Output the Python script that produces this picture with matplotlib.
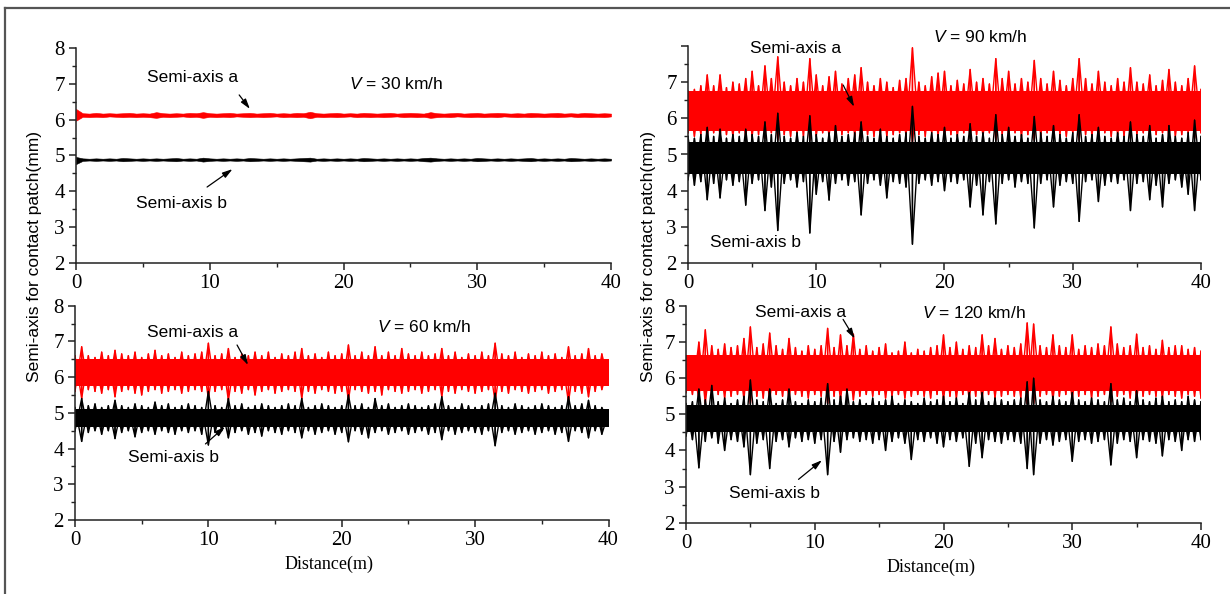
import numpy as np
import matplotlib
matplotlib.use("Agg")
import matplotlib.pyplot as plt
from matplotlib.lines import Line2D
from matplotlib.ticker import MultipleLocator

# ---------------- data ----------------
# Envelope values sampled every 0.5 m over 0-40 m (81 samples each)
red_hi_30 = [6.30,6.18,6.17,6.19,6.17,6.18,6.17,6.18,6.19,6.17,
             6.18,6.17,6.21,6.18,6.17,6.18,6.17,6.19,6.18,6.21,
             6.18,6.17,6.18,6.19,6.17,6.18,6.19,6.17,6.18,6.19,
             6.17,6.18,6.17,6.19,6.18,6.22,6.18,6.17,6.18,6.19,
             6.17,6.18,6.17,6.19,6.18,6.17,6.18,6.19,6.17,6.18,
             6.19,6.18,6.17,6.21,6.18,6.17,6.18,6.19,6.17,6.18,
             6.19,6.17,6.18,6.19,6.18,6.17,6.18,6.17,6.19,6.18,
             6.17,6.18,6.19,6.17,6.18,6.17,6.19,6.18,6.17,6.18,
             6.17]
red_lo_30 = [5.97,6.08,6.07,6.08,6.07,6.09,6.08,6.07,6.08,6.07,
             6.08,6.07,6.05,6.08,6.07,6.08,6.09,6.07,6.08,6.05,
             6.08,6.07,6.08,6.07,6.09,6.08,6.07,6.08,6.07,6.08,
             6.09,6.07,6.08,6.07,6.08,6.04,6.08,6.07,6.08,6.07,
             6.08,6.09,6.07,6.08,6.07,6.08,6.07,6.08,6.09,6.07,
             6.08,6.07,6.08,6.05,6.07,6.08,6.07,6.09,6.08,6.07,
             6.08,6.07,6.08,6.07,6.09,6.08,6.07,6.08,6.07,6.08,
             6.07,6.08,6.07,6.08,6.09,6.07,6.08,6.07,6.08,6.07,
             6.09]
black_hi_30 = [4.96,4.92,4.91,4.92,4.91,4.92,4.91,4.93,4.92,4.91,
               4.92,4.91,4.92,4.91,4.92,4.93,4.91,4.92,4.91,4.94,
               4.92,4.91,4.92,4.91,4.92,4.91,4.93,4.92,4.91,4.92,
               4.91,4.92,4.91,4.92,4.93,4.94,4.91,4.92,4.91,4.92,
               4.91,4.92,4.91,4.93,4.92,4.91,4.92,4.91,4.92,4.91,
               4.92,4.91,4.93,4.94,4.92,4.91,4.92,4.91,4.92,4.91,
               4.93,4.92,4.91,4.92,4.91,4.92,4.91,4.92,4.93,4.91,
               4.92,4.91,4.92,4.91,4.93,4.92,4.91,4.92,4.91,4.92,
               4.91]
black_lo_30 = [4.76,4.85,4.86,4.85,4.86,4.85,4.86,4.84,4.85,4.86,
               4.85,4.86,4.85,4.86,4.85,4.84,4.86,4.85,4.86,4.83,
               4.85,4.86,4.85,4.86,4.85,4.86,4.84,4.85,4.86,4.85,
               4.86,4.85,4.86,4.85,4.84,4.83,4.86,4.85,4.86,4.85,
               4.86,4.85,4.86,4.84,4.85,4.86,4.85,4.86,4.85,4.86,
               4.85,4.86,4.84,4.83,4.85,4.86,4.85,4.86,4.85,4.86,
               4.84,4.85,4.86,4.85,4.86,4.85,4.86,4.85,4.84,4.86,
               4.85,4.86,4.85,4.86,4.84,4.85,4.86,4.85,4.86,4.85,
               4.86]

red_hi_90 = [6.75,6.8,6.9,7.2,6.9,7.2,6.85,7.0,6.95,7.1,
             7.3,6.9,7.45,7.1,7.7,7.0,6.9,7.1,7.0,7.65,
             7.2,6.9,7.15,7.3,6.95,7.1,7.2,7.4,7.0,6.9,
             7.1,7.0,6.85,7.05,7.1,7.95,7.0,6.9,7.15,7.25,
             7.3,6.9,7.05,6.95,7.35,7.0,7.1,6.95,7.65,7.1,
             7.3,6.95,7.1,7.0,7.6,7.1,6.95,7.3,7.05,6.9,
             7.1,7.65,7.1,6.95,7.3,7.0,6.9,7.1,7.0,7.4,
             7.0,6.95,7.2,6.9,7.05,7.35,7.0,6.9,7.1,7.45,
             6.8]
red_lo_90 = [5.6,5.5,5.55,5.45,5.6,5.5,5.55,5.5,5.6,5.45,
             5.5,5.55,5.45,5.6,5.4,5.55,5.5,5.6,5.5,5.4,
             5.5,5.6,5.5,5.45,5.55,5.6,5.5,5.4,5.55,5.5,
             5.6,5.5,5.55,5.6,5.5,5.35,5.55,5.5,5.6,5.5,
             5.45,5.55,5.5,5.6,5.45,5.55,5.5,5.6,5.4,5.55,
             5.5,5.6,5.5,5.55,5.4,5.5,5.6,5.45,5.55,5.5,
             5.6,5.4,5.55,5.5,5.45,5.6,5.5,5.55,5.5,5.45,
             5.55,5.6,5.5,5.55,5.6,5.45,5.5,5.55,5.6,5.45,
             5.6]
black_hi_90 = [5.5,5.45,5.55,5.75,5.5,5.7,5.45,5.55,5.5,5.7,
               5.55,5.5,5.9,5.55,6.14,5.5,5.45,5.6,5.5,6.07,
               5.55,5.45,5.6,5.8,5.5,5.55,5.6,5.9,5.5,5.45,
               5.7,5.5,5.45,5.55,5.6,6.33,5.5,5.45,5.6,5.55,
               5.75,5.45,5.55,5.5,5.85,5.5,5.6,5.45,6.1,5.55,
               5.75,5.5,5.55,5.45,6.05,5.6,5.5,5.8,5.55,5.45,
               5.6,6.1,5.5,5.55,5.75,5.5,5.45,5.6,5.5,5.9,
               5.55,5.5,5.8,5.45,5.55,5.8,5.5,5.45,5.6,5.95,
               5.5]
black_lo_90 = [4.3,4.15,4.25,3.75,4.2,3.8,4.3,4.15,4.25,3.6,
               4.2,4.3,3.45,4.1,2.9,4.2,4.3,4.1,4.25,2.83,
               3.9,4.25,3.74,4.2,4.3,4.15,4.25,3.33,4.2,4.3,
               4.15,3.8,4.25,4.2,4.1,2.52,4.2,4.3,4.15,4.25,
               4.0,4.25,4.2,4.3,3.55,4.15,3.33,4.25,3.08,4.2,
               4.3,4.1,4.25,4.2,2.97,4.2,4.3,3.55,4.15,4.25,
               4.2,3.15,4.25,4.3,3.7,4.15,4.25,4.2,4.3,3.45,
               4.2,4.25,3.75,4.15,3.55,4.2,4.3,4.1,3.9,3.45,
               4.3]

red_hi_60 = [6.6,6.85,6.6,6.55,6.7,6.6,6.75,6.65,6.6,6.7,
             6.55,6.65,6.75,6.6,6.65,6.55,6.7,6.6,6.65,6.7,
             6.95,6.6,6.65,6.8,6.55,6.65,6.6,6.7,6.6,6.7,
             6.55,6.65,6.6,6.7,6.8,6.6,6.65,6.55,6.7,6.6,
             6.65,6.9,6.6,6.7,6.6,6.85,6.6,6.7,6.6,6.8,
             6.65,6.6,6.7,6.6,6.65,6.8,6.6,6.7,6.55,6.65,
             6.6,6.7,6.6,6.95,6.65,6.6,6.7,6.55,6.65,6.6,
             6.7,6.6,6.65,6.55,6.85,6.6,6.65,6.8,6.6,6.65,
             6.3]
red_lo_60 = [5.6,5.4,5.65,5.6,5.55,5.65,5.45,5.6,5.65,5.55,
             5.5,5.6,5.65,5.55,5.6,5.65,5.55,5.6,5.65,5.6,
             5.4,5.6,5.65,5.35,5.6,5.55,5.65,5.5,5.6,5.65,
             5.55,5.6,5.65,5.6,5.4,5.6,5.55,5.65,5.6,5.55,
             5.6,5.35,5.65,5.6,5.55,5.6,5.5,5.65,5.6,5.55,
             5.6,5.65,5.55,5.6,5.65,5.45,5.6,5.55,5.65,5.6,
             5.55,5.6,5.65,5.3,5.6,5.55,5.65,5.6,5.55,5.6,
             5.65,5.55,5.6,5.65,5.3,5.6,5.55,5.45,5.6,5.65,
             5.9]
black_hi_60 = [5.15,5.4,5.2,5.25,5.15,5.2,5.35,5.2,5.15,5.25,
               5.2,5.15,5.3,5.2,5.25,5.15,5.2,5.25,5.2,5.15,
               5.6,5.2,5.15,5.4,5.2,5.25,5.15,5.2,5.25,5.2,
               5.15,5.2,5.25,5.2,5.4,5.15,5.2,5.25,5.2,5.15,
               5.2,5.5,5.2,5.25,5.15,5.4,5.2,5.25,5.15,5.2,
               5.25,5.2,5.15,5.2,5.25,5.45,5.2,5.15,5.25,5.2,
               5.15,5.2,5.25,5.55,5.2,5.15,5.25,5.2,5.15,5.2,
               5.25,5.2,5.15,5.2,5.45,5.2,5.25,5.35,5.2,5.15,
               5.0]
black_lo_60 = [4.5,4.2,4.45,4.5,4.4,4.5,4.28,4.45,4.5,4.33,
               4.45,4.5,4.4,4.5,4.45,4.4,4.5,4.45,4.5,4.4,
               4.1,4.45,4.5,4.3,4.45,4.5,4.4,4.45,4.35,4.5,
               4.45,4.4,4.5,4.45,4.3,4.5,4.4,4.45,4.5,4.4,
               4.45,4.19,4.5,4.4,4.3,4.45,4.5,4.4,4.45,4.5,
               4.4,4.45,4.5,4.4,4.45,4.25,4.5,4.4,4.45,4.5,
               4.45,4.4,4.5,4.08,4.45,4.5,4.4,4.45,4.5,4.4,
               4.45,4.5,4.4,4.45,4.2,4.5,4.45,4.3,4.5,4.4,
               4.75]

red_hi_120 = [6.6,6.55,7.0,7.34,6.9,6.8,6.95,6.85,6.9,7.1,
              7.42,6.85,6.95,7.25,6.9,6.8,7.1,6.85,6.75,6.9,
              6.8,6.9,7.38,6.85,7.2,6.9,7.22,6.8,6.9,6.75,
              6.85,6.95,6.7,6.75,7.0,6.7,6.8,6.75,6.85,6.9,
              7.2,6.85,7.0,6.8,6.9,6.85,7.2,6.9,7.1,6.8,
              6.9,6.85,6.95,7.53,7.5,6.9,6.85,7.2,6.9,6.85,
              7.2,6.8,6.9,6.85,6.95,6.9,7.42,6.95,6.85,6.9,
              7.22,6.85,6.9,6.8,7.05,6.85,6.9,6.9,6.8,6.85,
              6.75]
red_lo_120 = [5.6,5.55,5.4,5.3,5.5,5.55,5.45,5.5,5.55,5.4,
              5.3,5.5,5.45,5.35,5.55,5.5,5.4,5.55,5.5,5.45,
              5.55,5.5,5.3,5.5,5.4,5.55,5.4,5.5,5.55,5.5,
              5.55,5.45,5.5,5.55,5.45,5.5,5.55,5.5,5.45,5.55,
              5.4,5.5,5.45,5.55,5.4,5.5,5.4,5.55,5.45,5.5,
              5.55,5.5,5.45,5.3,5.3,5.5,5.55,5.4,5.5,5.55,
              5.4,5.5,5.55,5.45,5.5,5.55,5.35,5.5,5.55,5.45,
              5.4,5.5,5.55,5.5,5.45,5.55,5.5,5.45,5.55,5.5,
              5.45]
black_hi_120 = [5.3,5.35,5.7,5.4,5.8,5.35,5.45,5.3,5.4,5.5,
                5.95,5.4,5.35,5.7,5.3,5.4,5.7,5.35,5.3,5.4,
                5.35,5.45,5.85,5.4,5.5,5.7,5.35,5.4,5.3,5.45,
                5.35,5.4,5.5,5.3,5.4,5.35,5.3,5.45,5.35,5.4,
                5.5,5.35,5.45,5.3,5.6,5.4,5.6,5.35,5.45,5.4,
                5.35,5.4,5.45,5.9,6.0,5.4,5.35,5.5,5.4,5.35,
                5.6,5.4,5.35,5.45,5.4,5.35,5.85,5.4,5.45,5.35,
                5.65,5.4,5.35,5.45,5.5,5.35,5.4,5.35,5.5,5.4,
                5.35]
black_lo_120 = [4.4,4.3,3.52,4.25,4.35,4.2,4.0,4.3,4.25,4.1,
                3.33,4.2,4.3,3.5,4.25,4.3,4.1,4.35,4.25,4.3,
                4.2,4.3,3.33,4.25,3.95,4.3,4.35,4.25,4.3,4.2,
                4.3,4.0,4.25,4.35,4.2,3.75,4.3,4.25,4.35,4.2,
                4.1,4.3,4.25,4.35,3.56,4.2,3.8,4.3,4.25,4.2,
                4.3,4.25,4.2,3.5,3.33,4.2,4.3,4.15,4.25,4.3,
                3.7,4.25,4.3,4.2,4.25,4.3,3.6,4.2,4.3,4.25,
                3.8,4.3,4.25,4.2,3.85,4.3,4.25,4.0,4.3,4.25,
                4.3]

# solid core band of each trace (lower, upper); None = fill whole envelope
core_30 = {"a": None, "b": None}
core_60 = {"a": (5.75, 6.5), "b": (4.6, 5.1)}
core_90 = {"a": (5.65, 6.75), "b": (4.45, 5.35)}
core_120 = {"a": (5.65, 6.65), "b": (4.5, 5.25)}

speeds = ["30", "90", "60", "120"]
dist_range = (0, 40)

# ---------------- figure ----------------
W, H = 1230, 594
fig = plt.figure(figsize=(W / 100, H / 100), dpi=100)

def px_rect(l, r, t, b):
    return [l / W, 1 - b / H, (r - l) / W, (b - t) / H]

axes_rects = {
    "30": px_rect(76, 611, 48, 263),
    "90": px_rect(688, 1201, 46, 263),
    "60": px_rect(75, 608.5, 305.7, 520),
    "120": px_rect(686, 1201, 306, 522.7),
}

series = {
    "30": (red_hi_30, red_lo_30, black_hi_30, black_lo_30, core_30),
    "90": (red_hi_90, red_lo_90, black_hi_90, black_lo_90, core_90),
    "60": (red_hi_60, red_lo_60, black_hi_60, black_lo_60, core_60),
    "120": (red_hi_120, red_lo_120, black_hi_120, black_lo_120, core_120),
}

serif = "Liberation Serif"
sans = "Liberation Sans"
plt.rcParams["mathtext.fontset"] = "custom"
plt.rcParams["mathtext.it"] = "Liberation Sans:italic"

def draw_trace(ax, hi, lo, core, color, lw):
    hi = np.asarray(hi, float)
    lo = np.asarray(lo, float)
    assert len(hi) == len(lo)
    x = np.linspace(dist_range[0], dist_range[1], len(hi))
    if core is None:
        ax.fill_between(x, lo, hi, color=color, lw=0.4, edgecolor=color)
        return
    ax.fill_between(x, core[0], core[1], color=color, lw=0)
    xs = np.repeat(x, 2)
    ax.plot(xs, np.column_stack([hi, lo]).ravel(), color=color, lw=lw)
    ax.plot(xs, np.column_stack([lo, hi]).ravel(), color=color, lw=lw)

axes = {}
for sp in speeds:
    ax = fig.add_axes(axes_rects[sp])
    axes[sp] = ax
    rh, rl, bh, bl, core = series[sp]
    draw_trace(ax, rh, rl, core["a"], "#ff0000", 1.0)
    draw_trace(ax, bh, bl, core["b"], "#000000", 1.0)
    ax.set_xlim(*dist_range)
    ax.set_ylim(2, 8)
    for s in ("top", "right"):
        ax.spines[s].set_visible(False)
    for s in ("left", "bottom"):
        ax.spines[s].set_linewidth(1.1)
        ax.spines[s].set_color("#222222")
    ax.xaxis.set_major_locator(MultipleLocator(10))
    ax.xaxis.set_minor_locator(MultipleLocator(5))
    ax.yaxis.set_major_locator(MultipleLocator(1))
    ax.yaxis.set_minor_locator(MultipleLocator(0.5))
    ax.tick_params(which="major", direction="out", length=5, width=1.1,
                   labelsize=15, pad=3, colors="#222222")
    ax.tick_params(which="minor", direction="out", length=3, width=1.0,
                   colors="#222222")
    for lab in ax.get_xticklabels() + ax.get_yticklabels():
        lab.set_fontfamily(serif)
        lab.set_color("black")
    ax.patch.set_alpha(0)

# hide the "8" label on the 90 km/h panel
axes["90"].set_yticks([2, 3, 4, 5, 6, 7, 8])
axes["90"].set_yticklabels(["2", "3", "4", "5", "6", "7", ""], fontfamily=serif)

# ---------------- annotations ----------------
ann_fs = 12.5
arrow = dict(arrowstyle="-|>,head_length=0.6,head_width=0.18", color="black",
             lw=0.9, shrinkA=0, shrinkB=0)

def label(ax, txt, xy, tail=None, tip=None):
    ax.text(xy[0], xy[1], txt, ha="center", va="center", fontsize=ann_fs,
            fontfamily=sans, clip_on=False)
    if tail is not None:
        ax.annotate("", xy=tip, xytext=tail, arrowprops=arrow, annotation_clip=False)

def speed_label(ax, v, xy):
    ax.text(xy[0], xy[1], r"$\it{V}$" + f" = {v} km/h", ha="center", va="center",
            fontsize=ann_fs, fontfamily=sans, clip_on=False)

a = axes["30"]
label(a, "Semi-axis a", (8.75, 7.19), (12.2, 6.69), (13.0, 6.3))
label(a, "Semi-axis b", (7.9, 3.67), (9.8, 4.12), (11.7, 4.62))
speed_label(a, "30", (23.9, 6.99))

a = axes["90"]
label(a, "Semi-axis a", (8.4, 7.94), (12.1, 6.92), (12.95, 6.32))
label(a, "Semi-axis b", (5.3, 2.58))
speed_label(a, "90", (22.8, 8.24))

a = axes["60"]
label(a, "Semi-axis a", (8.8, 7.24), (12.15, 6.9), (12.97, 6.34))
label(a, "Semi-axis b", (7.4, 3.74), (9.78, 4.13), (11.24, 4.61))
speed_label(a, "60", (26.2, 7.41))

a = axes["120"]
label(a, "Semi-axis a", (8.93, 7.83), (12.2, 7.63), (13.1, 7.1))
label(a, "Semi-axis b", (6.85, 2.81), (8.74, 3.2), (10.56, 3.73))
speed_label(a, "120", (22.4, 7.8))

# shared axis labels
ylab = "Semi-axis for contact patch(mm)"
fig.text(35 / W, 1 - 257 / H, ylab, rotation=90, ha="center", va="center",
         fontsize=12.5, fontfamily=sans)
fig.text(648 / W, 1 - 257 / H, ylab, rotation=90, ha="center", va="center",
         fontsize=12.5, fontfamily=sans)
fig.text(329 / W, 1 - 564 / H, "Distance(m)", ha="center", va="center",
         fontsize=13, fontfamily=serif)
fig.text(931 / W, 1 - 567 / H, "Distance(m)", ha="center", va="center",
         fontsize=13, fontfamily=serif)

# outer frame (top and left edges)
frame_col = "#555555"
fig.add_artist(Line2D([5 / W, 1.0], [1 - 8 / H, 1 - 8 / H], color=frame_col,
                      lw=1.6, transform=fig.transFigure))
fig.add_artist(Line2D([5 / W, 5 / W], [0, 1 - 8 / H], color=frame_col,
                      lw=1.6, transform=fig.transFigure))

fig.savefig("out.png", dpi=100)
